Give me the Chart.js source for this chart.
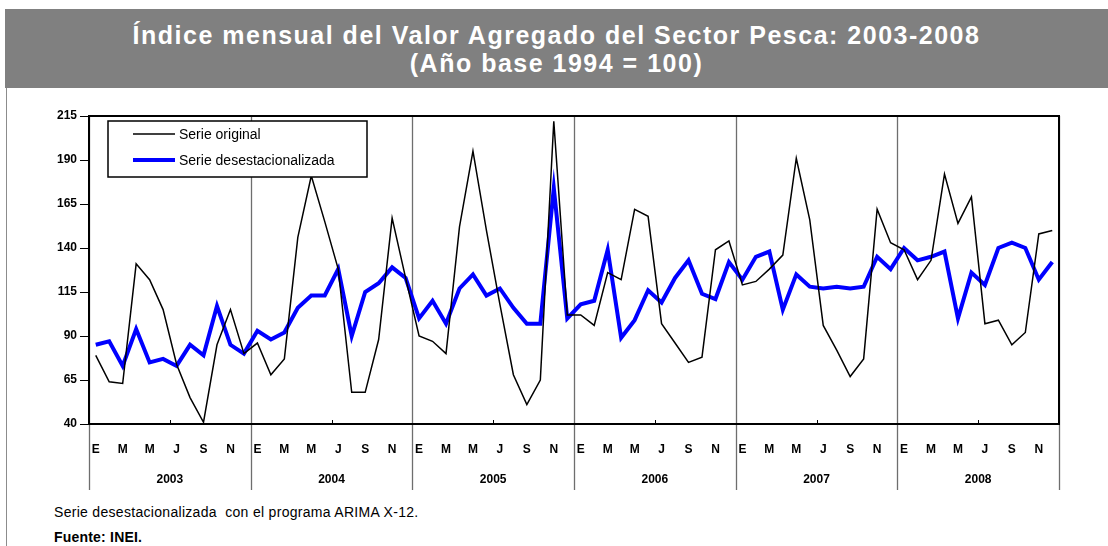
<!DOCTYPE html>
<html>
<head>
<meta charset="utf-8">
<script src="https://cdn.jsdelivr.net/npm/chart.js@4/dist/chart.umd.min.js"></script>
<style>
  body { margin: 0; background: #fff; width: 1108px; height: 546px; overflow: hidden; position: relative; font-family: "Liberation Sans", Arial, sans-serif; }
  #frame { position: absolute; left: 6px; top: 88px; width: 1102px; height: 470px; border-left: 1.5px solid #8c8c8c; }
  #titulo { position: absolute; left: 5px; top: 9px; width: 1103px; height: 79px; background: #808080; color: #fff;
            font-weight: bold; font-size: 25px; text-align: center; line-height: 28px; letter-spacing: 1.5px; }
  #titulo div:first-child { padding-top: 12px; }
  #grafico { position: absolute; left: 0; top: 90px; }
  .nota { position: absolute; left: 54px; font-size: 14px; color: #000; letter-spacing: 0.3px; }
</style>
</head>
<body>
<div id="frame"></div>
<div id="titulo">
  <div>Índice mensual del Valor Agregado del Sector Pesca: 2003-2008</div>
  <div>(Año base 1994 = 100)</div>
</div>
<canvas id="grafico" width="1108" height="410"></canvas>
<div class="nota" style="top:504px;">Serie desestacionalizada&nbsp; con el programa ARIMA X-12.</div>
<div class="nota" style="top:529px;font-weight:bold;letter-spacing:0.2px;">Fuente: INEI.</div>

<script>
// datos
const anios = ["2003", "2004", "2005", "2006", "2007", "2008"];
const meses = ["E", "F", "M", "A", "M", "J", "J", "A", "S", "O", "N", "D"];
const yTicks = [40, 65, 90, 115, 140, 165, 190, 215];

const serieOriginal = [
  79, 64, 63, 131, 122, 105, 74, 55, 41, 85, 105, 80,
  86, 68, 77, 146, 181, 155, 128, 58, 58, 88, 157, 123,
  90, 87, 80, 152, 195, 150, 108, 68, 51, 65, 212, 102,
  102, 96, 126, 122, 162, 158, 97, 86, 75, 78, 139, 144,
  119, 121, 128, 136, 191, 156, 96, 82, 67, 77, 162, 143,
  139, 122, 133, 182, 154, 169, 97, 99, 85, 92, 148, 150
];
const serieDesest = [
  85, 87, 73, 94, 75, 77, 73, 85, 79, 107, 85, 80,
  93, 88, 92, 106, 113, 113, 128, 90, 115, 120, 129, 123,
  100, 110, 97, 117, 125, 113, 117, 106, 97, 97, 174, 100,
  108, 110, 139, 89, 99, 116, 109, 123, 133, 114, 111, 132,
  122, 135, 138, 105, 125, 118, 117, 118, 117, 118, 135, 128,
  140, 133, 135, 138, 100, 126, 119, 140, 143, 140, 122, 132
];

const etiquetas = [];
anios.forEach(() => meses.forEach(m => etiquetas.push(m)));

// separadores de año, marco y leyenda
const extras = {
  id: "extras",
  beforeDatasetsDraw(chart) {
    const { ctx, chartArea: a, scales: { x } } = chart;
    const paso = x.getPixelForValue(1) - x.getPixelForValue(0);
    ctx.save();
    ctx.strokeStyle = "#6e6e6e";
    ctx.lineWidth = 1.3;
    for (let k = 0; k <= anios.length; k++) {
      const bx = Math.round(x.getPixelForValue(k * 12) - paso / 2) + 0.5;
      ctx.beginPath();
      ctx.moveTo(bx, a.top);
      ctx.lineTo(bx, 400);
      ctx.stroke();
    }
    ctx.restore();
  },
  afterDraw(chart) {
    const { ctx, chartArea: a, scales: { x } } = chart;
    const paso = x.getPixelForValue(1) - x.getPixelForValue(0);
    ctx.save();
    // marco del área
    ctx.strokeStyle = "#000";
    ctx.lineWidth = 2;
    ctx.strokeRect(a.left, a.top, a.right - a.left, a.bottom - a.top);
    // marcas a mitad de año
    ctx.lineWidth = 1;
    for (let k = 0; k < anios.length; k++) {
      const mx = Math.round(x.getPixelForValue(k * 12 + 6) - paso / 2) + 0.5;
      ctx.beginPath();
      ctx.moveTo(mx, a.bottom);
      ctx.lineTo(mx, a.bottom - 4);
      ctx.stroke();
    }
    // años
    ctx.fillStyle = "#000";
    ctx.font = "bold 12px 'Liberation Sans', Arial, sans-serif";
    ctx.textAlign = "center";
    ctx.textBaseline = "middle";
    anios.forEach((an, k) => {
      const cx = (x.getPixelForValue(k * 12) + x.getPixelForValue(k * 12 + 11)) / 2;
      ctx.fillText(an, cx, 390);
    });
    // leyenda
    const lx = 108, ly = 31, lw = 259, lh = 56;
    ctx.fillStyle = "#fff";
    ctx.fillRect(lx, ly, lw, lh);
    ctx.strokeStyle = "#000";
    ctx.lineWidth = 1.5;
    ctx.strokeRect(lx, ly, lw, lh);
    ctx.font = "14px 'Liberation Sans', Arial, sans-serif";
    ctx.textAlign = "left";
    chart.data.datasets.forEach((ds, i) => {
      const ry = ly + 13 + i * 26;
      ctx.strokeStyle = ds.borderColor;
      ctx.lineWidth = ds.borderWidth;
      ctx.beginPath();
      ctx.moveTo(lx + 25, ry);
      ctx.lineTo(lx + 67, ry);
      ctx.stroke();
      ctx.fillStyle = "#000";
      ctx.fillText(ds.label, lx + 71, ry + 1);
    });
    ctx.restore();
  }
};

const ctx = document.getElementById("grafico").getContext("2d");
new Chart(ctx, {
  type: "line",
  data: {
    labels: etiquetas,
    datasets: [
      { label: "Serie original", data: serieOriginal, borderColor: "#000000", borderWidth: 1.5, pointRadius: 0, tension: 0 },
      { label: "Serie desestacionalizada", data: serieDesest, borderColor: "#0000ff", borderWidth: 4, pointRadius: 0, tension: 0 }
    ]
  },
  options: {
    responsive: false,
    animation: false,
    devicePixelRatio: 1,
    layout: { padding: { left: 0, right: 49, top: 26, bottom: 0 } },
    plugins: { legend: { display: false }, tooltip: { enabled: false } },
    scales: {
      x: {
        type: "category",
        offset: true,
        afterFit: s => { s.height = 76; },
        grid: { display: false },
        border: { display: false },
        ticks: {
          autoSkip: false, maxRotation: 0, padding: 10, color: "#000",
          font: { family: "'Liberation Sans', Arial, sans-serif", size: 12, weight: "bold" },
          callback: (v, i) => (i % 2 === 0 ? etiquetas[i] : "")
        }
      },
      y: {
        min: yTicks[0],
        max: yTicks[yTicks.length - 1],
        afterFit: s => { s.width = 89; },
        afterBuildTicks: s => { s.ticks = yTicks.map(v => ({ value: v })); },
        grid: { drawOnChartArea: false, drawTicks: true, tickLength: 9, color: "#000" },
        border: { display: false },
        ticks: {
          padding: 3, color: "#000",
          font: { family: "'Liberation Sans', Arial, sans-serif", size: 12, weight: "bold" }
        }
      }
    }
  },
  plugins: [extras]
});
</script>
</body>
</html>
